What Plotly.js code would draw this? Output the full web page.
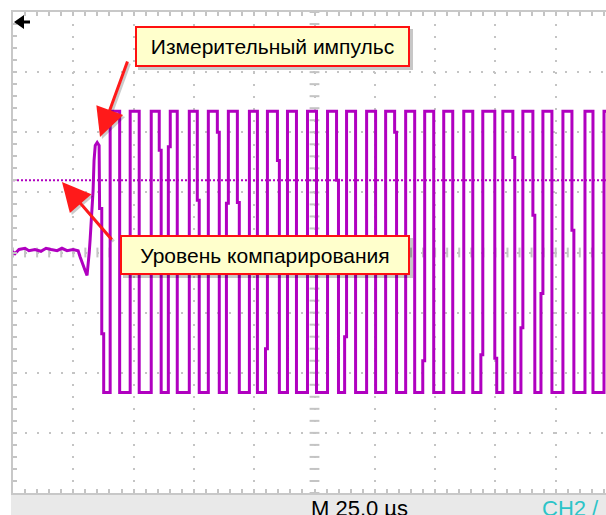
<!DOCTYPE html>
<html><head><meta charset="utf-8">
<script src="https://cdn.plot.ly/plotly-3.0.1.min.js"></script>
<style>html,body{margin:0;padding:0;background:#fff;overflow:hidden}#chart{width:606px;height:515px}</style>
</head><body><div id="chart"></div>
<script>
// ---- data (time in µs, level in divisions) ----
const leadTime  = [-125.4,-124.2,-122.5,-120.0,-118.4,-115.9,-113.4,-111.3,-109.2,-106.7,-104.7,-102.6,-100.1,-98.0,-97.2,-96.3,-95.1,-94.3,-93.9,-93.4,-93.0,-92.6,-92.2,-91.8,-91.4,-90.9,-90.1,-89.3,-89.1,-88.2,-88.2,-87.4,-87.4];
const leadLevel = [0.02,-0.02,0.05,0.07,0.03,0.05,0.02,0.07,0.05,0.03,0.07,0.03,0.05,0.03,-0.07,-0.18,-0.30,-0.38,-0.23,0.0,0.23,0.50,0.78,1.03,1.53,1.78,1.83,1.78,0.73,0.73,-1.35,-1.35,-2.33];
const riseTime = [-84.72,-76.42,-67.69,-59.80,-51.91,-44.02,-35.72,-26.99,-19.52,-11.21,-2.91,5.40,13.29,21.60,29.49,37.79,45.68,53.57,61.88,69.77,78.08,86.38,94.69,102.99,112.13,120.02];
const riseStepLevel = [null,null,null,1.76,null,null,0.82,null,-1.60,null,null,null,-1.40,null,null,null,-1.80,null,null,-1.70,null,-1.25,-0.68,null,null,null];
const fallTime = [-80.78,-72.68,-64.37,-56.90,-48.59,-40.28,-31.98,-23.67,-15.37,-7.48,0.83,9.14,17.03,25.33,33.22,41.53,49.42,57.31,65.62,74.75,82.23,90.54,98.43,106.73,115.45];
const fallStepLevel = [null,null,1.70,null,0.87,2.0,0.83,null,1.53,null,null,1.2,null,null,2.0,null,null,null,null,-1.76,1.58,0.62,null,0.37,null];
const highLevel = [2.35];
const lowLevel = [-2.33];
const compareLevel = [1.20];
const labelPulse = "Измерительный импульс";
const labelLevel = "Уровень компарирования";
const timebaseText = "M 25.0 µs";
const channelText = "CH2 /";

// ---- build the trace ----
const X = leadTime.slice(), Y = leadLevel.slice();
const H = highLevel[0], L = lowLevel[0], JOG = 0.8;
for (let k = 0; k < riseTime.length; k++) {
  const r = riseTime[k], rs = riseStepLevel[k];
  if (rs === null) { X.push(r, r); Y.push(L, H); }
  else { X.push(r - JOG, r - JOG, r, r); Y.push(L, rs, rs, H); }
  if (k < fallTime.length) {
    const f = fallTime[k], s = fallStepLevel[k];
    if (s === null) { X.push(f, f); Y.push(H, L); }
    else { X.push(f, f, f + JOG, f + JOG); Y.push(H, s, s, L); }
  } else { X.push(125); Y.push(H); }
}

const sig = '#b000c0';
const gridCol = '#c4c4c4';
// centre-cross tick marks (decoration)
const cx = [], cy = [];
for (let t = -125; t <= 125; t += 5) cx.push(t);
for (let v = -4; v <= 4.001; v += 0.2) cy.push(+v.toFixed(2));

const traces = [
  {x: cx, y: cx.map(() => 0), mode: 'markers', hoverinfo: 'skip', showlegend: false,
   marker: {symbol: 'line-ns', size: 7, line: {color: gridCol, width: 2}}},
  {x: cy.map(() => 0), y: cy, mode: 'markers', hoverinfo: 'skip', showlegend: false,
   marker: {symbol: 'line-ew', size: 7, line: {color: gridCol, width: 2}}},
  {x: [-125, 125], y: [compareLevel[0], compareLevel[0]], mode: 'lines', showlegend: false,
   line: {color: sig, width: 2, dash: '2px,2px'}},
  {x: X, y: Y, mode: 'lines', showlegend: false, line: {color: sig, width: 3}}
];

const px2x = p => (p - 13) / 593, py2y = p => (493 - p) / 481;
const boxFont = {family: 'Liberation Sans, Arial, sans-serif', size: 21, color: '#000'};
const ann = [];
function box(text, cxp, cyp, w, h) {
  ann.push({xref: 'paper', yref: 'paper', x: px2x(cxp), y: py2y(cyp), xanchor: 'center', yanchor: 'middle',
    text: text, showarrow: false,
    font: {family: boxFont.family, size: boxFont.size, color: 'rgba(0,0,0,0)'}, bgcolor: 'rgba(0,0,0,0.22)',
    borderwidth: 0, borderpad: 2, width: w, height: h, xshift: 3, yshift: -3});
  ann.push({xref: 'paper', yref: 'paper', x: px2x(cxp), y: py2y(cyp), xanchor: 'center', yanchor: 'middle',
    text: text, showarrow: false,
    font: boxFont, bgcolor: '#ffffcc', bordercolor: '#ff1010', borderwidth: 2, borderpad: 0, width: w, height: h});
}
function arrow(tipX, tipY, tailX, tailY) {
  ann.push({xref: 'paper', yref: 'paper', x: px2x(tipX + 2), y: py2y(tipY + 2), ax: tailX - tipX, ay: tailY - tipY,
    text: '', showarrow: true, arrowhead: 2, arrowsize: 1.9, arrowwidth: 3, arrowcolor: 'rgba(0,0,0,0.2)'});
  ann.push({xref: 'paper', yref: 'paper', x: px2x(tipX), y: py2y(tipY), ax: tailX - tipX, ay: tailY - tipY,
    text: '', showarrow: true, arrowhead: 2, arrowsize: 1.9, arrowwidth: 3, arrowcolor: '#ff1a1a'});
}
arrow(100, 137, 128, 60);
arrow(62, 182, 113, 241);
box(labelPulse, 272, 47, 271, 37);
box(labelLevel, 265, 255, 286, 36);
ann.push({xref: 'paper', yref: 'paper', x: px2x(309), y: py2y(494), xanchor: 'left', yanchor: 'top',
  text: timebaseText, showarrow: false, font: {family: 'Liberation Sans, Arial, sans-serif', size: 22, color: '#000'}});
ann.push({xref: 'paper', yref: 'paper', x: px2x(540), y: py2y(494), xanchor: 'left', yanchor: 'top',
  text: channelText, showarrow: false, font: {family: 'Liberation Sans, Arial, sans-serif', size: 22, color: '#2cc4c8'}});

const layout = {
  width: 606, height: 515,
  margin: {l: 13, r: 0, t: 12, b: 22, pad: 0},
  paper_bgcolor: '#fff', plot_bgcolor: '#fff', showlegend: false,
  xaxis: {range: [-125, 120.85], showticklabels: false, zeroline: false,
    showgrid: true, gridcolor: gridCol, gridwidth: 2, griddash: '2px,10px', dtick: 25, tick0: 0,
    ticks: 'inside', ticklen: 4, tickwidth: 2, tickcolor: gridCol,
    minor: {dtick: 5, ticks: 'inside', ticklen: 4, tickwidth: 2, tickcolor: gridCol, showgrid: false},
    showline: true, linecolor: '#c8c8c8', linewidth: 2, mirror: 'ticks', fixedrange: true},
  yaxis: {range: [-4, 4], showticklabels: false, zeroline: false,
    showgrid: true, gridcolor: gridCol, gridwidth: 2, griddash: '2px,10px', dtick: 1, tick0: 0,
    ticks: 'inside', ticklen: 4, tickwidth: 2, tickcolor: gridCol,
    minor: {dtick: 0.2, ticks: 'inside', ticklen: 4, tickwidth: 2, tickcolor: gridCol, showgrid: false},
    showline: true, linecolor: '#c8c8c8', linewidth: 2, mirror: false, fixedrange: true},
  shapes: [
    {type: 'rect', xref: 'paper', yref: 'paper', x0: px2x(11), x1: 1.02, y0: py2y(516), y1: py2y(495),
     fillcolor: '#e9e9e9', line: {width: 0}, layer: 'below'},
    {type: 'path', xref: 'x', yref: 'y', xsizemode: 'pixel', ysizemode: 'pixel', xanchor: -125, yanchor: 4,
     path: 'M1,-10 L11,-3 L11,-17 Z M11,-11.5 L17,-11.5 L17,-8.5 L11,-8.5 Z', fillcolor: '#000', line: {width: 0}}
  ],
  annotations: ann
};
Plotly.newPlot('chart', traces, layout, {staticPlot: true, displayModeBar: false});
</script></body></html>
